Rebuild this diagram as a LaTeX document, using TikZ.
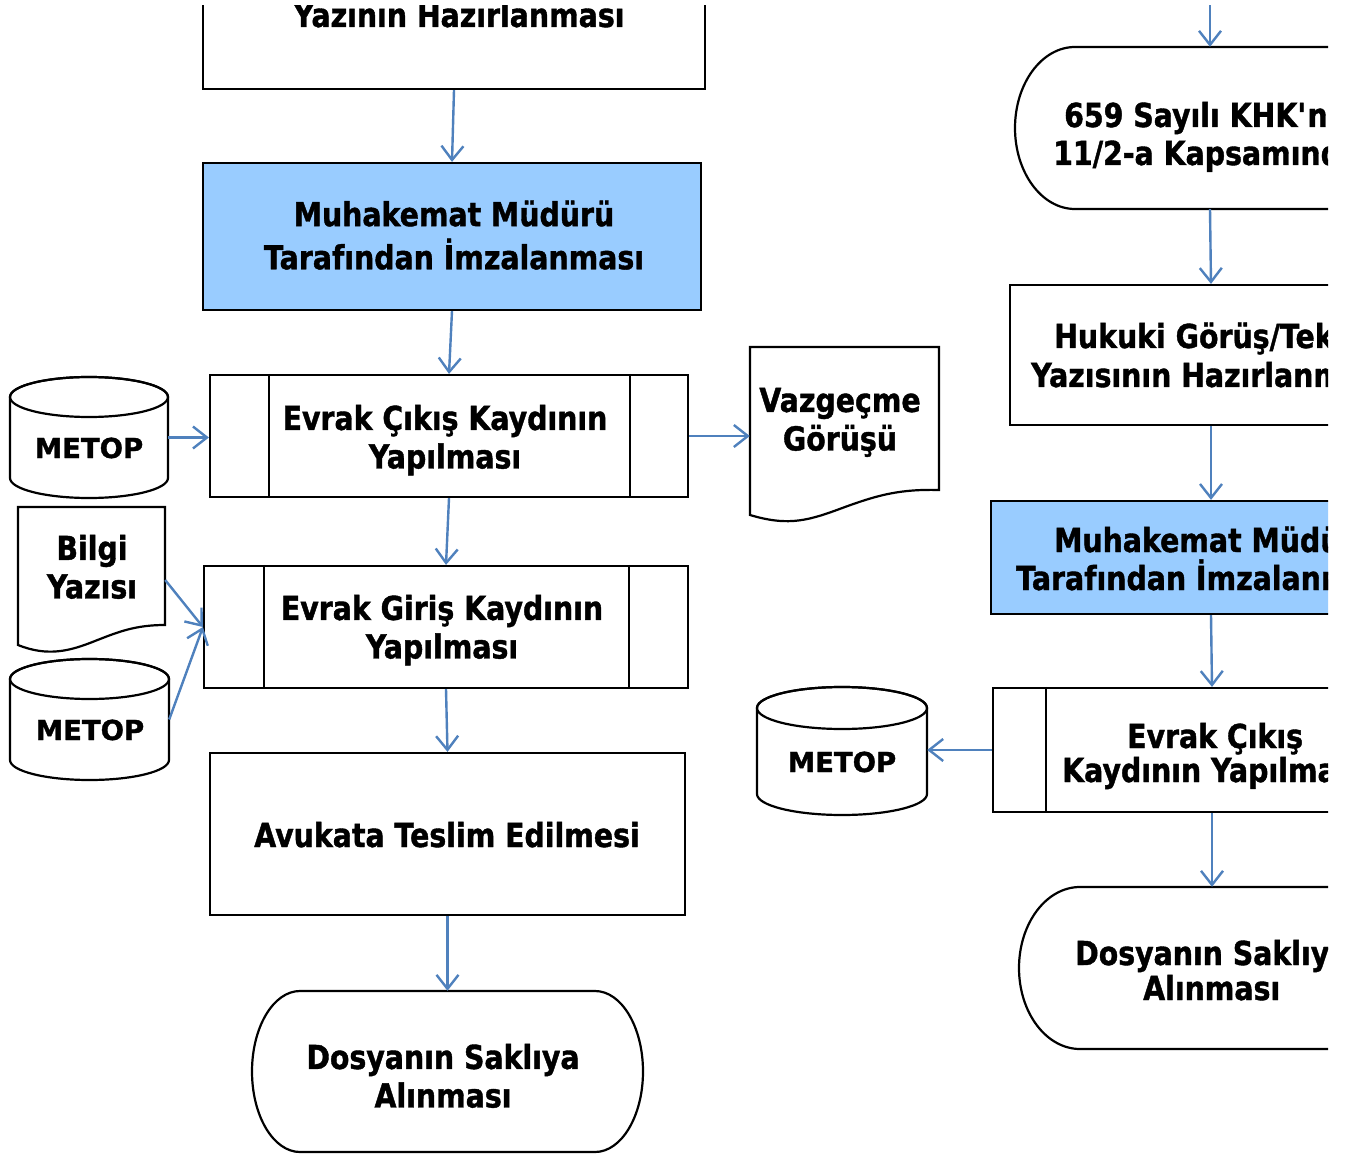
\documentclass[tikz,border=0pt]{standalone}
\usepackage{fontspec}
\newfontfamily\tah{DejaVu Sans}[FakeStretch=0.86, FakeBold=1.2]
\newfontfamily\verd{DejaVu Sans}[FakeBold=1.2]
\usetikzlibrary{arrows.meta,calc}
\definecolor{fillblue}{HTML}{99CCFF}
\definecolor{arrblue}{HTML}{4F81BD}
\newcommand\sqq{\XeTeXglyph\XeTeXcharglyph"27\relax}
\begin{document}
\begin{tikzpicture}[x=1pt,y=-1pt,
  plainbox/.style={draw=black, line width=2.2pt, inner sep=0pt, rectangle},
  ghost/.style={inner sep=0pt, rectangle},
  shapeline/.style={draw=black, line width=2.2pt, fill=white},
  txt/.style={font={\tah\bfseries\fontsize{33}{38.5}\selectfont}, inner sep=0pt, text=black},
  txttwo/.style={txt, align=center},
  dbtxt/.style={font={\verd\bfseries\fontsize{27.5}{38.5}\selectfont}, inner sep=0pt, text=black},
  arr/.style={draw=arrblue, line width=2.4pt, -{Straight Barb[length=14pt,width=22pt]}}
]
\fill[white] (0,0) rectangle (1347,1155);
\useasboundingbox (0,0) rectangle (1347,1155);
\begin{scope}
\clip (0,6) rectangle (1328,1155);

% ---------- left column shapes ----------
\node[plainbox, minimum width=502, minimum height=160] (A) at (454,9) {};
\node[plainbox, fill=fillblue, minimum width=498, minimum height=147] (B) at (452,236.5) {};
\node[plainbox, minimum width=478, minimum height=122] (C) at (449,436) {};
\draw[line width=2.2pt] ($(C.north west)+(60,0)$) -- ($(C.south west)+(60,0)$)
                        ($(C.north east)+(-59,0)$) -- ($(C.south east)+(-59,0)$);
\node[plainbox, minimum width=484, minimum height=122] (D) at (446,627) {};
\draw[line width=2.2pt] ($(D.north west)+(61,0)$) -- ($(D.south west)+(61,0)$)
                        ($(D.north east)+(-60,0)$) -- ($(D.south east)+(-60,0)$);
\node[plainbox, minimum width=475, minimum height=162] (E) at (447.5,834) {};
\node[ghost, minimum width=391, minimum height=161] (F) at (447.5,1071.5) {};
\draw[shapeline] (300,991) -- (595,991) arc[start angle=-90,end angle=90,x radius=48,y radius=80.5]
  -- (300,1152) arc[start angle=90,end angle=270,x radius=48,y radius=80.5] -- cycle;

% cylinders
\node[ghost, minimum width=158, minimum height=121] (M1) at (89,437.5) {};
\draw[shapeline] (10,397) -- (10,478) arc[start angle=180,end angle=0,x radius=79,y radius=20]
  -- (168,397) arc[start angle=0,end angle=-180,x radius=79,y radius=20] -- cycle;
\draw[line width=2.2pt] (89,397) ellipse[x radius=79,y radius=20];

\node[ghost, minimum width=159, minimum height=121] (M2) at (89.5,719.5) {};
\draw[shapeline] (10,679) -- (10,760) arc[start angle=180,end angle=0,x radius=79.5,y radius=20]
  -- (169,679) arc[start angle=0,end angle=-180,x radius=79.5,y radius=20] -- cycle;
\draw[line width=2.2pt] (89.5,679) ellipse[x radius=79.5,y radius=20];

\node[ghost, minimum width=170, minimum height=128] (M3) at (842,751) {};
\draw[shapeline] (757,708) -- (757,794) arc[start angle=180,end angle=0,x radius=85,y radius=21]
  -- (927,708) arc[start angle=0,end angle=-180,x radius=85,y radius=21] -- cycle;
\draw[line width=2.2pt] (842,708) ellipse[x radius=85,y radius=21];

% documents
\node[ghost, minimum width=189, minimum height=175] (Vz) at (844.5,434.5) {};
\draw[shapeline] (750,347) -- (939,347) -- (939,490) .. controls (900,489) and (878,495) .. (845,507)
  .. controls (810,520) and (790,527) .. (750,515) -- cycle;
\node[ghost, minimum width=147, minimum height=146] (Bi) at (91.5,580) {};
\draw[shapeline] (18,507) -- (165,507) -- (165,625) .. controls (135,625) and (118,632) .. (95,641)
  .. controls (70,651) and (48,657) .. (18,645) -- cycle;

% ---------- right column shapes ----------
\coordinate (topin) at (1210,0);
\node[ghost, minimum width=390, minimum height=162] (G) at (1210,128) {};
\draw[shapeline] (1075,47) -- (1345,47) arc[start angle=-90,end angle=90,x radius=60,y radius=81]
  -- (1075,209) arc[start angle=90,end angle=270,x radius=60,y radius=81] -- cycle;
\node[plainbox, minimum width=402, minimum height=140] (H) at (1211,355) {};
\node[plainbox, fill=fillblue, minimum width=440, minimum height=113] (I) at (1211,557.5) {};
\node[plainbox, minimum width=438, minimum height=124] (J) at (1212,750) {};
\draw[line width=2.2pt] ($(J.north west)+(54,0)$) -- ($(J.south west)+(54,0)$);
\node[ghost, minimum width=386, minimum height=162] (K) at (1212,968) {};
\draw[shapeline] (1080,887) -- (1344,887) arc[start angle=-90,end angle=90,x radius=61,y radius=81]
  -- (1080,1049) arc[start angle=90,end angle=270,x radius=61,y radius=81] -- cycle;

% ---------- texts ----------
\node[txt, anchor=base] (tA) at (459,27) {Yazının Hazırlanması};
\node[txttwo] (tB) at (454,240) {\strut Muhakemat Müdürü\\\strut Tarafından İmzalanması};
\node[txttwo] (tC) at (445,441.5) {\strut Evrak Çıkış Kaydının\\\strut Yapılması};
\node[txttwo] (tD) at (442,631.5) {\strut Evrak Giriş Kaydının\\\strut Yapılması};
\node[txt, anchor=base] (tE) at (447,847) {Avukata Teslim Edilmesi};
\node[txttwo] (tF) at (443,1080.5) {\strut Dosyanın Saklıya\\\strut Alınması};
\node[txttwo] (tBi) at (92,571.5) {\strut Bilgi\\\strut Yazısı};
\node[txttwo] (tVz) at (840,423.5) {\strut Vazgeçme\\\strut Görüşü};
\node[dbtxt, anchor=base] (tM1) at (89,458) {METOP};
\node[dbtxt, anchor=base] (tM2) at (90,740) {METOP};
\node[dbtxt, anchor=base] (tM3) at (842,772) {METOP};

\node[txt, anchor=base west] (tG1) at (1064,127) {659 Sayılı KHK\sqq nın};
\node[txt, anchor=base west] (tG2) at (1053,165) {11/2-a Kapsamında};
\node[txt, anchor=base west] (tH1) at (1054,348) {Hukuki Görüş/Teklif};
\node[txt, anchor=base west] (tH2) at (1031,387) {Yazısının Hazırlanması};
\node[txt, anchor=base west] (tI1) at (1054,552) {Muhakemat Müdürü};
\node[txt, anchor=base west] (tI2) at (1016,590) {Tarafından İmzalanması};
\node[txt, anchor=base west] (tJ1) at (1127,748) {Evrak Çıkış};
\node[txt, anchor=base west] (tJ2) at (1062,782) {Kaydının Yapılması};
\node[txt, anchor=base west] (tK1) at (1075,965) {Dosyanın Saklıya};
\node[txt, anchor=base west] (tK2) at (1143,1000) {Alınması};

% ---------- connectors ----------
\draw[arr] (A.south) -- (B.north);
\draw[arr] (B.south) -- (C.north);
\draw[arr] (C.south) -- (D.north);
\draw[arr] (D.south) -- (E.north);
\draw[arr] (E.south) -- (F.north);
\draw[arr] (M1.east) -- (M1.east -| C.west);
\draw[arr] (C.east) -- (C.east -| Vz.west);
\draw[arr] (Bi.east) -- (D.west);
\draw[arr] (M2.east) -- (D.west);
\draw[arr] (topin) -- (G.north);
\draw[arr] (G.south) -- (H.north);
\draw[arr] (H.south) -- (I.north);
\draw[arr] (I.south) -- (J.north);
\draw[arr] (J.south) -- (K.north);
\draw[arr] (J.west) -- (J.west -| M3.east);
\end{scope}
\end{tikzpicture}
\end{document}
